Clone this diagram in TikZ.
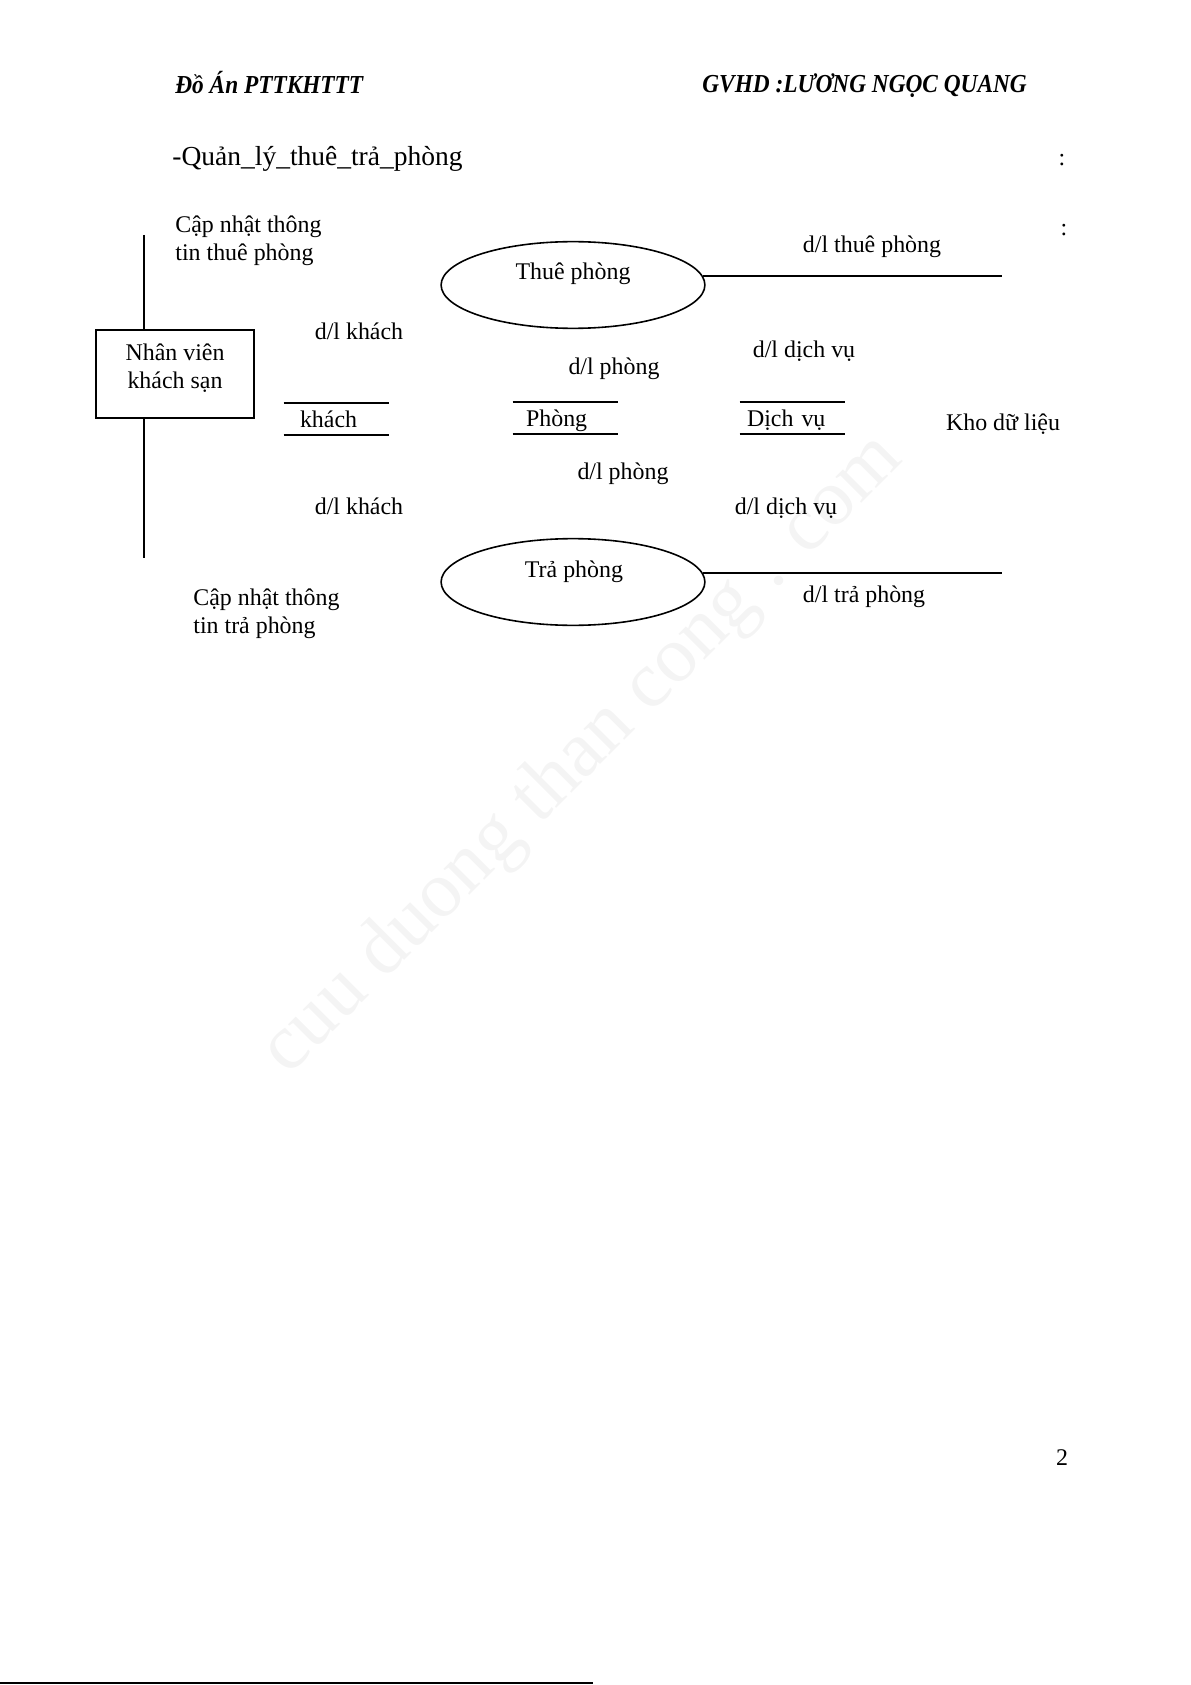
\documentclass[tikz,border=0pt]{standalone}
\usepackage{fontspec}
\usepackage{graphicx}
\setmainfont{Liberation Serif}
\usetikzlibrary{shapes.geometric}

\begin{document}
\begin{tikzpicture}[x=0.017632cm, y=-0.017632cm,
    main/.style = {draw, line width=0.8pt, rectangle, minimum width=79.3pt, minimum height=44pt, inner sep=0pt},
    proc/.style = {draw, line width=0.8pt, ellipse, minimum width=132.4pt, minimum height=43.5pt, inner sep=0pt},
    store/.style = {inner sep=0pt, minimum height=16pt, text height=10.5pt, text depth=1.5pt, text width=52.6pt, align=left},
    lbl/.style = {inner sep=0pt, font=\fontsize{12}{14}\selectfont},
    flow/.style = {line width=0.9pt}]
                \useasboundingbox (0,0) rectangle (1191,1685);

                % En-tete
                \node[lbl, anchor=west] (hdra) at (175,83) {\scalebox{0.9}[1]{\fontsize{13}{15}\selectfont\bfseries\itshape Đồ Án PTTKHTTT}};
                \node[lbl, anchor=west] (hdrb) at (702,86) {\scalebox{0.9}[1]{\fontsize{13}{15}\selectfont\bfseries\itshape GVHD :LƯƠNG NGỌC QUANG}};
                \node[lbl, anchor=west, font=\fontsize{13.8}{16}\selectfont] (titre) at (172,159) {-Quản\_lý\_thuê\_trả\_phòng};
                \node[lbl] (dots1) at (1062,160) {:};
                \node[lbl] (dots2) at (1064,230) {:};

                % Filigrane
                \node[lbl, rotate=45, text=gray!9, font=\fontsize{40}{44}\selectfont] (wm) at (583,755) {cuu duong than cong . com};

                % Noeuds
                \node[main] (nv) at (175,374) {};
                \node[lbl, align=center] (nvt) at (175,368) {Nhân viên\\khách sạn};
                \node[proc] (thue) at (573,285) {};
                \node[lbl] (thuet) at (573,274) {Thuê phòng};
                \node[proc] (tra) at (573,582) {};
                \node[lbl] (trat) at (574,572) {Trả phòng};
                \node[store, lbl] (khach) at (336.5,419) {\hspace*{8pt}khách};
                \node[store, lbl] (phong) at (565.5,418) {\hspace*{6.5pt}Phòng};
                \node[store, lbl] (dv) at (792.5,418) {\hspace*{3.5pt}Dịch vụ};
                \coordinate (nvtop) at (144,235);
                \coordinate (nvbot) at (144,558);
                \coordinate (dthue) at (1002,275);
                \coordinate (dtra) at (1002,573);

                % Etiquettes
                \node[lbl, anchor=west, align=left] (majthue) at (175,241) {Cập nhật thông\\tin thuê phòng};
                \node[lbl, anchor=west, align=left] (majtra) at (193,614) {Cập nhật thông\\tin trả phòng};
                \node[lbl] (lthue) at (872,247) {d/l thuê phòng};
                \node[lbl] (lkh1) at (359,331) {d/l khách};
                \node[lbl] (lph1) at (614,369) {d/l phòng};
                \node[lbl] (ldv1) at (804,351) {d/l dịch vụ};
                \node[lbl] (kho) at (1003,424) {Kho dữ liệu};
                \node[lbl] (lph2) at (623,474) {d/l phòng};
                \node[lbl] (lkh2) at (359,506) {d/l khách};
                \node[lbl] (ldv2) at (786,508) {d/l dịch vụ};
                \node[lbl] (ltra) at (864,597) {d/l trả phòng};
                \node[lbl] (page) at (1062,1458) {2};

                % Aretes
                \draw[flow] (nvtop) -- (nvtop |- nv.north);
                \draw[flow] (nvbot |- nv.south) -- (nvbot);
                \draw[flow] (thue.4) -- (thue.4 -| dthue);
                \draw[flow] (tra.4) -- (tra.4 -| dtra);
                \draw[flow] (khach.north west) -- (khach.north east);
                \draw[flow] (khach.south west) -- (khach.south east);
                \draw[flow] (phong.north west) -- (phong.north east);
                \draw[flow] (phong.south west) -- (phong.south east);
                \draw[flow] (dv.north west) -- (dv.north east);
                \draw[flow] (dv.south west) -- (dv.south east);

                % Pied de page
                \coordinate (fa) at (0,1683);
                \coordinate (fb) at (593,1683);
                \draw[line width=0.6pt] (fa) -- (fb);
                \end{tikzpicture}
\end{document}
